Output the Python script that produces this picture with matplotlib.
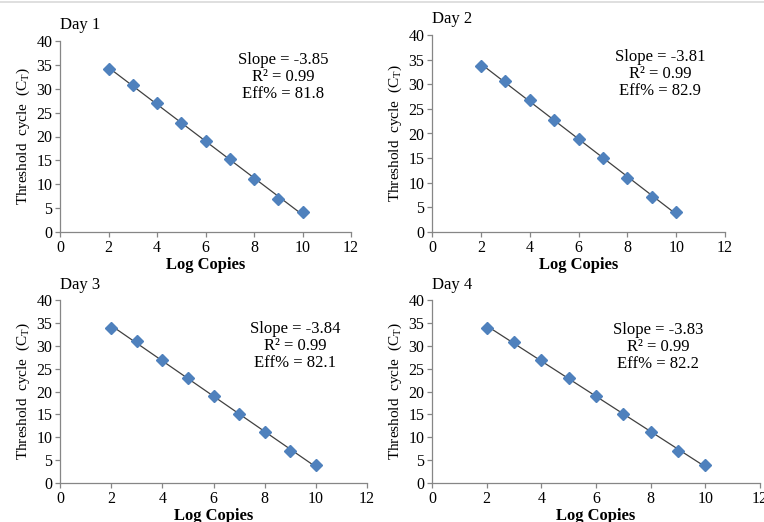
import numpy as np
import matplotlib
matplotlib.use("Agg")
import matplotlib.pyplot as plt
from matplotlib.lines import Line2D

plt.rcParams['font.family'] = ['Liberation Serif', 'DejaVu Serif']
plt.rcParams['mathtext.fontset'] = 'custom'
plt.rcParams['mathtext.rm'] = 'Liberation Serif'
plt.rcParams['mathtext.it'] = 'Liberation Serif'

log_copies = [2, 3, 4, 5, 6, 7, 8, 9, 10]
day1 = [34.2, 30.8, 27.0, 22.8, 19.1, 15.2, 11.1, 7.0, 4.1]
day2 = [33.7, 30.7, 26.8, 22.8, 18.9, 15.0, 10.9, 7.2, 4.0]
day3 = [33.9, 31.0, 26.9, 22.9, 19.1, 15.1, 11.1, 6.9, 3.9]
day4 = [33.9, 30.8, 26.9, 22.9, 19.1, 15.1, 11.1, 6.9, 3.9]
day_labels = ["Day 1", "Day 2", "Day 3", "Day 4"]
slopes = ["-3.85", "-3.81", "-3.84", "-3.83"]
r2 = ["0.99", "0.99", "0.99", "0.99"]
eff = ["81.8", "82.9", "82.1", "82.2"]
x_ticks = [0, 2, 4, 6, 8, 10, 12]
y_ticks = [0, 5, 10, 15, 20, 25, 30, 35, 40]

W, H = 764, 522
fig = plt.figure(figsize=(W / 100, H / 100), dpi=100)

# axes rectangles in pixels: left, right, top, bottom
rects = [(60, 351, 41, 232), (432, 725, 35, 232), (60, 367, 300, 483), (432, 760, 300, 483)]
# annotation centers (pixel)
ann = [(283, 77), (660, 74), (295, 346), (658, 347)]
series = [day1, day2, day3, day4]
grey = '#868686'

# top border line
fig.add_artist(Line2D([0, 1], [1 - 1.5 / H, 1 - 1.5 / H], color='#d9d9d9', lw=1.2))

for i, (l, r, t, b) in enumerate(rects):
    ax = fig.add_axes([l / W, 1 - b / H, (r - l) / W, (b - t) / H])
    ys = series[i]
    coef = np.polyfit(log_copies, ys, 1)
    xl = np.array([log_copies[0], log_copies[-1]])
    ax.plot(xl, np.polyval(coef, xl), color='#404040', lw=0.9, zorder=2)
    ax.plot(log_copies, ys, linestyle='none', marker='D', markersize=6,
            color='#4F81BD', markeredgecolor='#4F81BD', zorder=3)
    ax.set_xlim(0, 12)
    ax.set_ylim(0, 40)
    ax.set_xticks(x_ticks)
    ax.set_yticks(y_ticks)
    for s in ['top', 'right']:
        ax.spines[s].set_visible(False)
    for s in ['left', 'bottom']:
        ax.spines[s].set_color(grey)
        ax.spines[s].set_linewidth(0.9)
    ax.tick_params(axis='both', direction='out', length=3.5, width=0.9, color=grey,
                   labelsize=11.5, pad=2)
    ax.set_xlabel("Log Copies", fontsize=12, fontweight='bold', labelpad=1)
    ax.set_ylabel(r"Threshold  cycle  (C$_\mathregular{T}$)", fontsize=11, labelpad=3)
    ax.text(0.0, 1.04, day_labels[i], transform=ax.transAxes, fontsize=12,
            ha='left', va='bottom')
    cx, cy = ann[i]
    fig.text(cx / W, 1 - cy / H,
             f"Slope = {slopes[i]}\nR\u00b2 = {r2[i]}\nEff% = {eff[i]}",
             ha='center', va='center', fontsize=12, linespacing=1.1)

fig.savefig("out.png", dpi=100)
